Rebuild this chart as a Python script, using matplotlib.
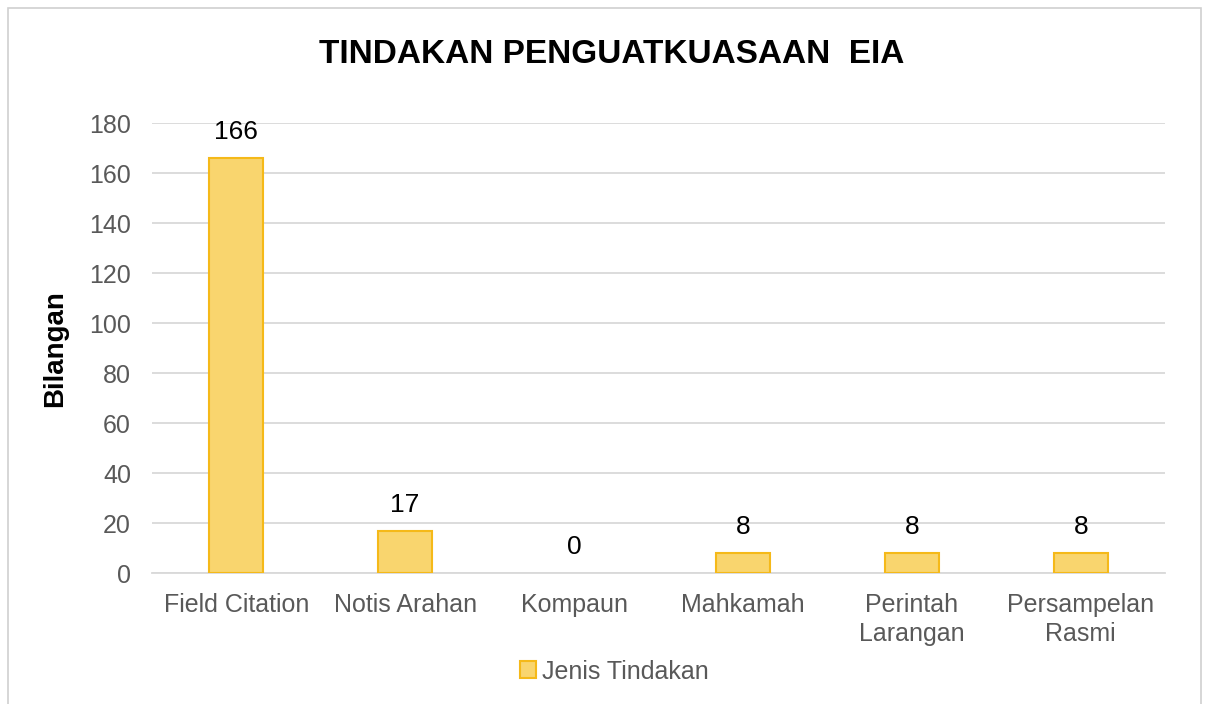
import matplotlib.pyplot as plt
from matplotlib.patches import Rectangle

categories = ["Field Citation", "Notis Arahan", "Kompaun", "Mahkamah",
              "Perintah\nLarangan", "Persampelan\nRasmi"]
values = [166, 17, 0, 8, 8, 8]
yticks = [0, 20, 40, 60, 80, 100, 120, 140, 160, 180]

plt.rcParams['font.family'] = ['Liberation Sans', 'DejaVu Sans']

fig = plt.figure(figsize=(12.05, 7.04), dpi=100)
ax = fig.add_axes([0.126, 0.186, 0.841, 0.639])

# outer chart frame
fig.patches.append(Rectangle((0.007, -0.01), 0.99, 0.998, transform=fig.transFigure,
                             fill=False, edgecolor='#d0d0d0', linewidth=1.2))

x = range(len(categories))
bars = ax.bar(x, values, width=0.32, color='#f9d56e', edgecolor='#f5b919',
              linewidth=1.5, label='Jenis Tindakan', zorder=3)
for b, v in zip(bars, values):
    if v == 0:
        b.set_linewidth(0)
for xi, v in zip(x, values):
    ax.annotate(str(v), (xi, v), xytext=(0, 10), textcoords='offset points',
                ha='center', va='bottom', fontsize=19, color='black')

ax.set_ylim(0, 180)
ax.set_xlim(-0.5, len(categories) - 0.5)
ax.set_yticks(yticks)
ax.set_xticks(list(x))
ax.set_xticklabels(categories, fontsize=18, color='#595959', linespacing=1.3)
ax.tick_params(axis='y', labelsize=18, labelcolor='#595959', length=0, pad=15)
ax.tick_params(axis='x', length=0, pad=14)
ax.grid(axis='y', color='#d9d9d9', linewidth=1.3, zorder=0)
for s in ['top', 'right', 'left']:
    ax.spines[s].set_visible(False)
ax.spines['bottom'].set_color('#d9d9d9')
ax.spines['bottom'].set_linewidth(1.3)

ax.set_ylabel('Bilangan', fontsize=20, fontweight='bold', labelpad=15)
fig.text(0.508, 0.922, 'TINDAKAN PENGUATKUASAAN  EIA', ha='center', va='center',
         fontsize=24, fontweight='bold')

leg = fig.legend(handles=[bars], loc='center', bbox_to_anchor=(0.51, 0.046), frameon=False,
                 fontsize=18, handlelength=0.65, handleheight=0.65, handletextpad=0.25)
for t in leg.get_texts():
    t.set_color('#595959')

fig.savefig('out.png', dpi=100, facecolor='white')
